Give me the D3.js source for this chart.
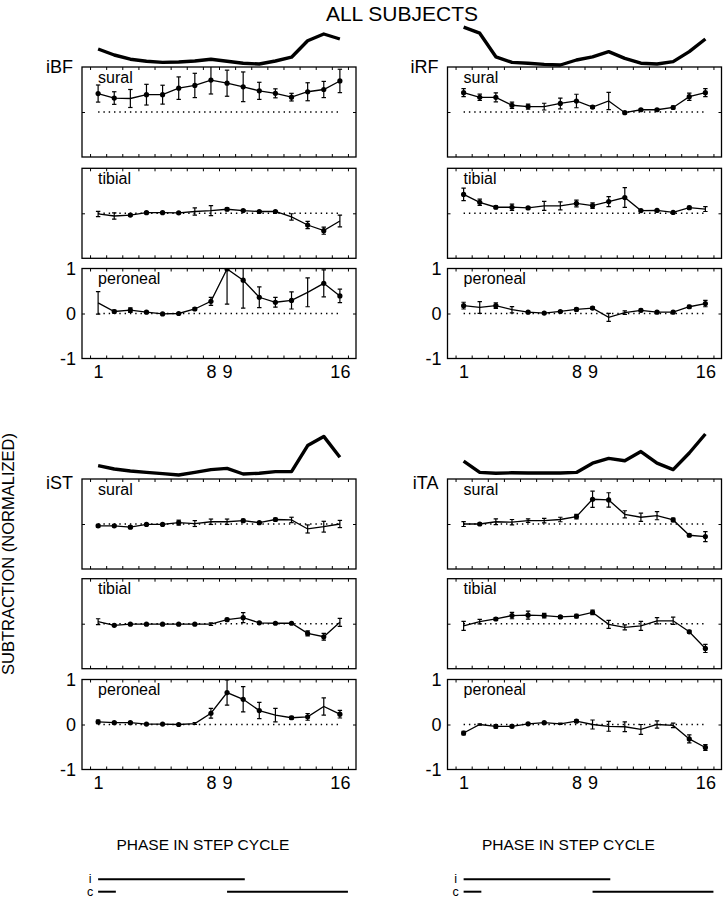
<!DOCTYPE html>
<html><head><meta charset="utf-8">
<script src="https://cdnjs.cloudflare.com/ajax/libs/d3/7.8.5/d3.min.js"></script>
<style>
body{margin:0;background:#fff;}
svg{display:block;}
text{font-family:"Liberation Sans",Arial,Helvetica,sans-serif;fill:#000;}
</style>
</head><body><svg id="c" width="727" height="900"></svg>
<script>
// ---------- data ----------
const phases = d3.range(1, 17);
const muscles = ["iBF", "iRF", "iST", "iTA"];
const nerves = ["sural", "tibial", "peroneal"];
const xTickValues = [1, 8, 9, 16];
const xTickLabels = ["1", "8", "9", "16"];
const yTickValues = [1, 0, -1];
const yTickLabels = ["1", "0", "-1"];
const titleText = "ALL SUBJECTS";
const yAxisTitle = "SUBTRACTION (NORMALIZED)";
const xAxisTitle = "PHASE IN STEP CYCLE";
const stepRows = ["i", "c"];
const stepI = [[1, 10.1]];
const stepC = [[1, 2.1], [9, 16.5]];

// rectified EMG envelopes (arbitrary units)
const emg_iBF = [0.425,0.275,0.17,0.12,0.09,0.10,0.125,0.17,0.12,0.07,0.05,0.125,0.22,0.63,0.80,0.675];
const emg_iRF = [0.97,0.82,0.23,0.09,0.07,0.04,0.025,0.15,0.23,0.36,0.19,0.07,0.05,0.11,0.36,0.675];
const emg_iST = [0.31,0.225,0.175,0.14,0.11,0.075,0.14,0.21,0.24,0.10,0.12,0.16,0.16,0.81,1.04,0.52];
const emg_iTA = [0.42,0.14,0.12,0.13,0.125,0.125,0.125,0.14,0.37,0.49,0.43,0.66,0.37,0.21,0.625,1.1];

// iBF
const iBF_sural     = [0.41,0.31,0.30,0.385,0.385,0.53,0.59,0.71,0.64,0.56,0.47,0.415,0.33,0.45,0.50,0.69];
const iBF_sural_err = [0.19,0.14,0.2,0.23,0.21,0.25,0.27,0.31,0.29,0.33,0.19,0.1,0.085,0.2,0.18,0.26];
const iBF_sural_sig = [1,1,0,1,1,1,1,1,1,1,1,1,1,1,1,1];
const iBF_tibial     = [-0.015,-0.06,-0.04,0.015,0.015,0.01,0.04,0.06,0.09,0.06,0.04,0.04,-0.08,-0.26,-0.385,-0.17];
const iBF_tibial_err = [0.06,0.07,0.02,0.02,0.015,0.015,0.08,0.11,0.03,0.02,0.015,0.015,0.07,0.08,0.08,0.13];
const iBF_tibial_sig = [0,0,1,1,1,1,0,0,1,1,1,1,0,1,1,0];
const iBF_peroneal     = [0.235,0.045,0.075,0.03,-0.01,0,0.1,0.27,0.99,0.74,0.36,0.25,0.29,0.47,0.67,0.39];
const iBF_peroneal_err = [0.25,0.03,0.05,0.02,0.015,0.015,0.03,0.09,0.78,0.62,0.23,0.11,0.19,0.32,0.3,0.15];
const iBF_peroneal_sig = [0,1,1,1,1,1,1,1,1,1,1,1,1,0,1,1];
// iRF
const iRF_sural     = [0.43,0.326,0.326,0.15,0.12,0.12,0.19,0.245,0.11,0.245,-0.015,0.05,0.05,0.1,0.34,0.43];
const iRF_sural_err = [0.09,0.07,0.1,0.07,0.055,0.075,0.12,0.15,0.03,0.19,0.02,0.02,0.02,0.03,0.08,0.09];
const iRF_sural_sig = [1,1,1,1,1,0,1,1,1,0,1,1,1,1,1,1];
const iRF_tibial     = [0.42,0.245,0.135,0.135,0.12,0.165,0.165,0.22,0.17,0.26,0.35,0.06,0.065,0.02,0.125,0.095];
const iRF_tibial_err = [0.14,0.07,0.03,0.07,0.03,0.1,0.09,0.075,0.06,0.11,0.22,0.02,0.02,0.015,0.03,0.055];
const iRF_tibial_sig = [1,1,1,1,1,0,0,1,1,1,1,1,1,1,1,0];
const iRF_peroneal     = [0.175,0.135,0.175,0.085,0.03,0.01,0.045,0.09,0.12,-0.085,0.02,0.07,0.03,0.03,0.15,0.22];
const iRF_peroneal_err = [0.075,0.13,0.06,0.07,0.02,0.015,0.02,0.03,0.03,0.09,0.04,0.03,0.02,0.02,0.03,0.07];
const iRF_peroneal_sig = [1,0,1,0,1,1,1,1,1,0,0,1,1,1,1,1];
// iST
const iST_sural     = [-0.04,-0.04,-0.07,-0.01,-0.01,0.03,0.01,0.05,0.05,0.075,0.03,0.1,0.09,-0.11,-0.06,0.0];
const iST_sural_err = [0.03,0.02,0.03,0.015,0.015,0.055,0.065,0.06,0.06,0.03,0.02,0.03,0.06,0.09,0.12,0.08];
const iST_sural_sig = [1,1,1,1,1,1,0,0,0,1,1,1,0,0,0,0];
const iST_tibial     = [0.045,-0.035,-0.01,-0.01,-0.01,-0.01,-0.01,-0.01,0.09,0.135,0.02,0.01,0.01,-0.215,-0.29,0.03];
const iST_tibial_err = [0.065,0.02,0.015,0.015,0.015,0.015,0.015,0.03,0.03,0.11,0.015,0.015,0.015,0.055,0.075,0.09];
const iST_tibial_sig = [0,1,1,1,1,1,1,0,1,1,1,1,1,1,1,0];
const iST_peroneal     = [0.06,0.04,0.04,0.01,0.01,0,0.02,0.25,0.71,0.56,0.31,0.21,0.15,0.17,0.4,0.23];
const iST_peroneal_err = [0.04,0.02,0.02,0.01,0.01,0.01,0.02,0.11,0.28,0.28,0.18,0.15,0.03,0.075,0.19,0.085];
const iST_peroneal_sig = [1,1,1,1,1,1,0,1,1,1,1,0,1,1,0,1];
// iTA
const iTA_sural     = [0,0,0.05,0.04,0.075,0.075,0.1,0.165,0.55,0.535,0.215,0.15,0.185,0.09,-0.25,-0.28];
const iTA_sural_err = [0.055,0.02,0.065,0.06,0.04,0.05,0.05,0.05,0.18,0.16,0.08,0.09,0.09,0.04,0.03,0.11];
const iTA_sural_sig = [0,1,0,0,0,0,0,1,1,1,0,0,0,1,1,1];
const iTA_tibial     = [-0.05,0.045,0.105,0.18,0.19,0.18,0.15,0.17,0.25,-0.015,-0.08,-0.05,0.065,0.065,-0.18,-0.55];
const iTA_tibial_err = [0.1,0.05,0.03,0.07,0.09,0.05,0.03,0.04,0.05,0.09,0.055,0.1,0.07,0.08,0.03,0.09];
const iTA_tibial_sig = [0,0,1,1,1,1,1,1,1,0,0,0,0,0,1,1];
const iTA_peroneal     = [-0.19,0,-0.04,-0.04,0.015,0.04,0.015,0.075,0,-0.04,-0.05,-0.11,0,-0.02,-0.32,-0.51];
const iTA_peroneal_err = [0.04,0.015,0.04,0.03,0.015,0.02,0.015,0.03,0.1,0.11,0.11,0.11,0.08,0.05,0.09,0.065];
const iTA_peroneal_sig = [1,0,1,1,1,1,0,1,0,0,0,0,0,0,1,1];

// ---------- assemble ----------
const series = {
  iBF: {emg: emg_iBF, sural: [iBF_sural, iBF_sural_err, iBF_sural_sig], tibial: [iBF_tibial, iBF_tibial_err, iBF_tibial_sig], peroneal: [iBF_peroneal, iBF_peroneal_err, iBF_peroneal_sig]},
  iRF: {emg: emg_iRF, sural: [iRF_sural, iRF_sural_err, iRF_sural_sig], tibial: [iRF_tibial, iRF_tibial_err, iRF_tibial_sig], peroneal: [iRF_peroneal, iRF_peroneal_err, iRF_peroneal_sig]},
  iST: {emg: emg_iST, sural: [iST_sural, iST_sural_err, iST_sural_sig], tibial: [iST_tibial, iST_tibial_err, iST_tibial_sig], peroneal: [iST_peroneal, iST_peroneal_err, iST_peroneal_sig]},
  iTA: {emg: emg_iTA, sural: [iTA_sural, iTA_sural_err, iTA_sural_sig], tibial: [iTA_tibial, iTA_tibial_err, iTA_tibial_sig], peroneal: [iTA_peroneal, iTA_peroneal_err, iTA_peroneal_sig]}
};

// ---------- layout ----------
const svg = d3.select("#c");
const colLeft = [82, 447.5];
const panelW = 274, panelH = 90;
const rowTops = [[67, 168.3, 268.5], [479, 578.7, 679.5]];
const muscleLabelDy = [5.5, 9.5];
const emgH = 40;

const x = d3.scaleLinear().domain([0, 17]).range([0, panelW]);
const y = d3.scaleLinear().domain([-1, 1]).range([panelH, 0]);
const emgY = d3.scaleLinear().domain([0, 1]).range([0, -emgH]);
const halfTicks = d3.range(0.5, 17, 1);

const defs = svg.append("defs");
defs.append("clipPath").attr("id", "pclip").append("rect")
  .attr("x", 0).attr("y", 0).attr("width", panelW).attr("height", panelH);

// title
svg.append("text").attr("x", 402).attr("y", 21).attr("text-anchor", "middle")
  .style("font-size", "21px").text(titleText);

// y axis title
svg.append("text").attr("transform", "translate(14,554) rotate(-90)")
  .attr("text-anchor", "middle").style("font-size", "16.5px").text(yAxisTitle);

muscles.forEach((m, mi) => {
  const col = mi % 2, row = Math.floor(mi / 2);
  const gx = colLeft[col];
  const tops = rowTops[row];
  const S = series[m];

  // muscle label
  svg.append("text").attr("x", gx - 9).attr("y", tops[0] + muscleLabelDy[row])
    .attr("text-anchor", "end").style("font-size", "18px").text(m);

  // EMG envelope
  const eg = svg.append("g").attr("transform", `translate(${gx},${tops[0] - 1})`);
  eg.append("path").datum(S.emg)
    .attr("d", d3.line().x((d, i) => x(phases[i])).y(d => emgY(d)))
    .attr("fill", "none").attr("stroke", "#000").attr("stroke-width", 3.4)
    .attr("stroke-linejoin", "round");

  nerves.forEach((n, ni) => {
    const [vals, errs, sig] = S[n];
    const g = svg.append("g").attr("transform", `translate(${gx},${tops[ni]})`);

    // ticks
    g.append("g").call(d3.axisTop(x).tickValues(halfTicks).tickSize(-3).tickFormat(""))
      .call(a => a.select(".domain").remove());
    g.append("g").attr("transform", `translate(0,${panelH})`)
      .call(d3.axisBottom(x).tickValues(halfTicks).tickSize(-3).tickFormat(""))
      .call(a => a.select(".domain").remove());
    g.append("g").call(d3.axisLeft(y).tickValues([0]).tickSize(-3).tickFormat(""))
      .call(a => a.select(".domain").remove());
    g.append("g").attr("transform", `translate(${panelW},0)`)
      .call(d3.axisRight(y).tickValues([0]).tickSize(-3).tickFormat(""))
      .call(a => a.select(".domain").remove());
    g.selectAll(".tick line").attr("stroke", "#000").attr("stroke-width", 1);

    // frame
    g.append("rect").attr("x", 0).attr("y", 0).attr("width", panelW).attr("height", panelH)
      .attr("fill", "none").attr("stroke", "#000").attr("stroke-width", 1.3);

    // zero dotted line
    g.append("line").attr("x1", x(1)).attr("x2", x(16)).attr("y1", y(0)).attr("y2", y(0))
      .attr("stroke", "#000").attr("stroke-width", 1.4).attr("stroke-dasharray", "1.4,3.9");

    // nerve label
    g.append("text").attr("x", x(1)).attr("y", 15.5).style("font-size", "16px").text(n);

    const dg = g.append("g").attr("clip-path", "url(#pclip)");
    // error bars
    const eb = dg.selectAll(".eb").data(vals).join("g");
    eb.append("line").attr("x1", (d, i) => x(phases[i])).attr("x2", (d, i) => x(phases[i]))
      .attr("y1", (d, i) => y(d + errs[i])).attr("y2", (d, i) => y(d - errs[i]))
      .attr("stroke", "#000").attr("stroke-width", 1.2);
    eb.append("line").attr("x1", (d, i) => x(phases[i]) - 2.2).attr("x2", (d, i) => x(phases[i]) + 2.2)
      .attr("y1", (d, i) => y(d + errs[i])).attr("y2", (d, i) => y(d + errs[i]))
      .attr("stroke", "#000").attr("stroke-width", 1.2);
    eb.append("line").attr("x1", (d, i) => x(phases[i]) - 2.2).attr("x2", (d, i) => x(phases[i]) + 2.2)
      .attr("y1", (d, i) => y(d - errs[i])).attr("y2", (d, i) => y(d - errs[i]))
      .attr("stroke", "#000").attr("stroke-width", 1.2);
    // line
    dg.append("path").datum(vals)
      .attr("d", d3.line().x((d, i) => x(phases[i])).y(d => y(d)))
      .attr("fill", "none").attr("stroke", "#000").attr("stroke-width", 1.3);
    // significance markers
    dg.selectAll(".dot").data(vals.map((v, i) => ({v, i})).filter(d => sig[d.i]))
      .join("circle").attr("cx", d => x(phases[d.i])).attr("cy", d => y(d.v)).attr("r", 2.6)
      .attr("fill", "#000");

    // axis labels on bottom panel
    if (ni === 2) {
      g.append("g").call(d3.axisLeft(y).tickValues(yTickValues).tickSize(0).tickPadding(6)
          .tickFormat((d, i) => yTickLabels[i]))
        .call(a => a.select(".domain").remove())
        .selectAll("text").style("font-size", "18px").attr("font-family", null);
      g.append("g").attr("transform", `translate(0,${panelH})`)
        .call(d3.axisBottom(x).tickValues(xTickValues).tickSize(0).tickPadding(7)
          .tickFormat((d, i) => xTickLabels[i]))
        .call(a => a.select(".domain").remove())
        .selectAll("text").style("font-size", "18px").attr("font-family", null);
    }
  });

  // x axis title (only bottom row)
  if (row === 1) {
    svg.append("text").attr("x", gx + x(7.5)).attr("y", 850).attr("text-anchor", "middle")
      .style("font-size", "15.5px").text(xAxisTitle);
    // step cycle bars
    const sg = svg.append("g").attr("transform", `translate(${gx},0)`);
    const rowsY = [879.3, 891.7];
    [stepI, stepC].forEach((segs, k) => {
      sg.append("text").attr("x", x(1) - 8).attr("y", rowsY[k] + 4).attr("text-anchor", "middle")
        .style("font-size", "12.5px").text(stepRows[k]);
      sg.selectAll(null).data(segs).join("line")
        .attr("x1", d => x(d[0])).attr("x2", d => x(d[1]))
        .attr("y1", rowsY[k]).attr("y2", rowsY[k])
        .attr("stroke", "#000").attr("stroke-width", 2);
    });
  }
});
</script>
</body></html>
